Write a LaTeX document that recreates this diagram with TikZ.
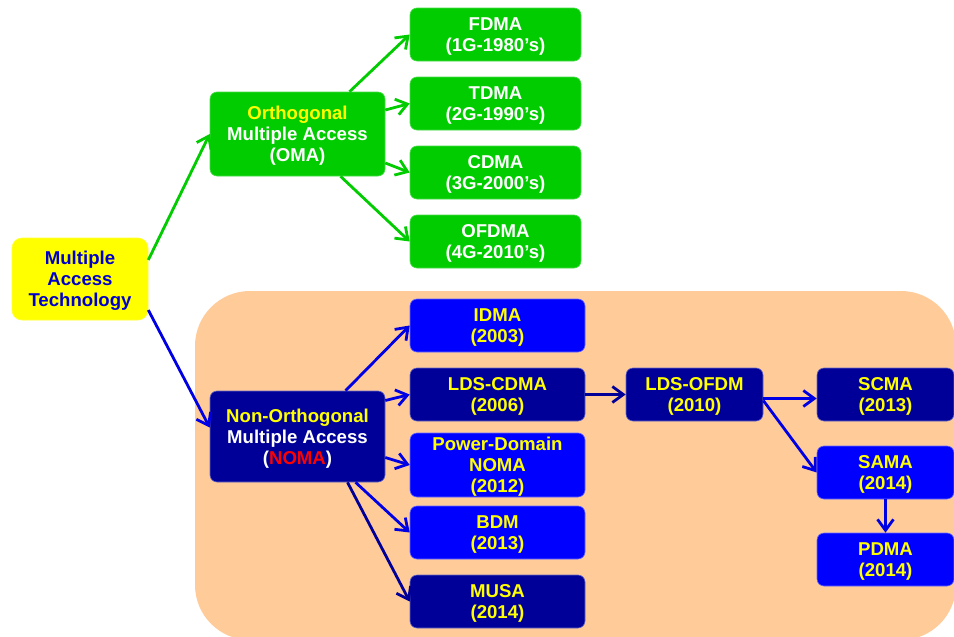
\documentclass[tikz,border=0pt]{standalone}
\usepackage{fontspec}
\setmainfont{Liberation Sans}
\usetikzlibrary{arrows.meta}
\definecolor{gbox}{HTML}{00CC00}
\definecolor{lblue}{HTML}{0000FF}
\definecolor{navy}{HTML}{000099}
\definecolor{ylw}{HTML}{FFFF00}
\definecolor{peach}{HTML}{FFCC99}
\definecolor{rtext}{HTML}{0000CC}
\definecolor{nred}{HTML}{FF0000}
\newcommand{\tsr}{\rule{0pt}{17.2pt}}
\begin{document}
\begin{tikzpicture}[x=1pt,y=-1pt,
  every node/.style={font=\fontsize{18.6}{21}\selectfont\bfseries, align=center, inner sep=0pt},
  box/.style={rectangle, rounded corners=7pt, line width=0.6pt},
  greenbox/.style={box, fill=gbox, draw=gbox!70!white, text=white},
  lightbox/.style={box, fill=lblue, draw=lblue!60!white, text=ylw},
  darkbox/.style={box, fill=navy, draw=navy!60!white, text=ylw},
  arr/.style={line width=2.8pt, -{Straight Barb[length=11pt,width=16pt,line width=2.8pt]}},
  garr/.style={arr, draw=gbox},
  barr/.style={arr, draw=lblue!90!black},
  narr/.style={arr, draw=navy}
]
\useasboundingbox (0,0) rectangle (954,637);
\fill[white] (0,0) rectangle (954,637);
\begin{scope}
\clip (0,0) rectangle (954,637);
\fill[peach, rounded corners=55pt] (195,291) rectangle (956,640);
\end{scope}

% nodes
\node[box, fill=ylw, draw=ylw!80!white, rounded corners=10pt, text=rtext, minimum width=136pt, minimum height=82pt] (root) at (80,279) {\tsr Multiple\\Access\\Technology};

\node[greenbox, minimum width=175pt, minimum height=84pt] (oma) at (297.5,134) {\tsr\textcolor{ylw}{Orthogonal}\\Multiple Access\\(OMA)};
\node[greenbox, minimum width=171pt, minimum height=53pt] (fdma) at (495.5,34.5) {\tsr FDMA\\(1G-1980’s)};
\node[greenbox, minimum width=171pt, minimum height=53pt] (tdma) at (495.5,103.5) {\tsr TDMA\\(2G-1990’s)};
\node[greenbox, minimum width=171pt, minimum height=53pt] (cdma) at (495.5,172.5) {\tsr CDMA\\(3G-2000’s)};
\node[greenbox, minimum width=171pt, minimum height=53pt] (ofdma) at (495.5,241.5) {\tsr OFDMA\\(4G-2010’s)};

\node[darkbox, text=white, minimum width=175pt, minimum height=91pt] (noma) at (297.5,436.5) {\tsr\textcolor{ylw}{Non-Orthogonal}\\Multiple Access\\(\textcolor{nred}{NOMA})};
\node[lightbox, minimum width=175pt, minimum height=53pt] (idma) at (497.5,325.5) {\tsr IDMA\\(2003)};
\node[darkbox, minimum width=175pt, minimum height=53pt] (ldscdma) at (497.5,394.5) {\tsr LDS-CDMA\\(2006)};
\node[lightbox, minimum width=175pt, minimum height=64pt] (pd) at (497.5,465) {\tsr Power-Domain\\NOMA\\(2012)};
\node[lightbox, minimum width=175pt, minimum height=53pt] (bdm) at (497.5,532.5) {\tsr BDM\\(2013)};
\node[darkbox, minimum width=175pt, minimum height=53pt] (musa) at (497.5,601.5) {\tsr MUSA\\(2014)};

\node[darkbox, minimum width=137pt, minimum height=53pt] (ldsofdm) at (694.5,394.5) {\tsr LDS-OFDM\\(2010)};
\node[darkbox, minimum width=137pt, minimum height=53pt] (scma) at (885.5,394.5) {\tsr SCMA\\(2013)};
\node[lightbox, minimum width=137pt, minimum height=53pt] (sama) at (885.5,472.5) {\tsr SAMA\\(2014)};
\node[lightbox, minimum width=137pt, minimum height=53pt] (pdma) at (885.5,559.5) {\tsr PDMA\\(2014)};

% connectors
\draw[garr] ([yshift=19pt]root.east) -- (oma.west);
\draw[barr] ([yshift=-31pt]root.east) -- ([yshift=9pt]noma.west);

\draw[garr] ([xshift=52pt]oma.north) -- (fdma.west);
\draw[garr] ([yshift=24pt]oma.east) -- (tdma.west);
\draw[garr] ([yshift=-29pt]oma.east) -- (cdma.west);
\draw[garr] ([xshift=43pt]oma.south) -- (ofdma.west);

\draw[barr] ([xshift=48pt]noma.north) -- (idma.west);
\draw[barr] ([yshift=36pt]noma.east) -- (ldscdma.west);
\draw[barr] ([yshift=-21pt]noma.east) -- (pd.west);
\draw[barr] ([xshift=58pt]noma.south) -- (bdm.west);
\draw[narr] ([xshift=50pt]noma.south) -- (musa.west);

\draw[narr] (ldscdma.east) -- (ldsofdm.west);
\draw[barr] ([yshift=-4pt]ldsofdm.east) -- ([yshift=-4pt]scma.west);
\draw[barr] ([yshift=-6pt]ldsofdm.east) -- (sama.west);
\draw[barr] (sama.south) -- (pdma.north);
\end{tikzpicture}
\end{document}
